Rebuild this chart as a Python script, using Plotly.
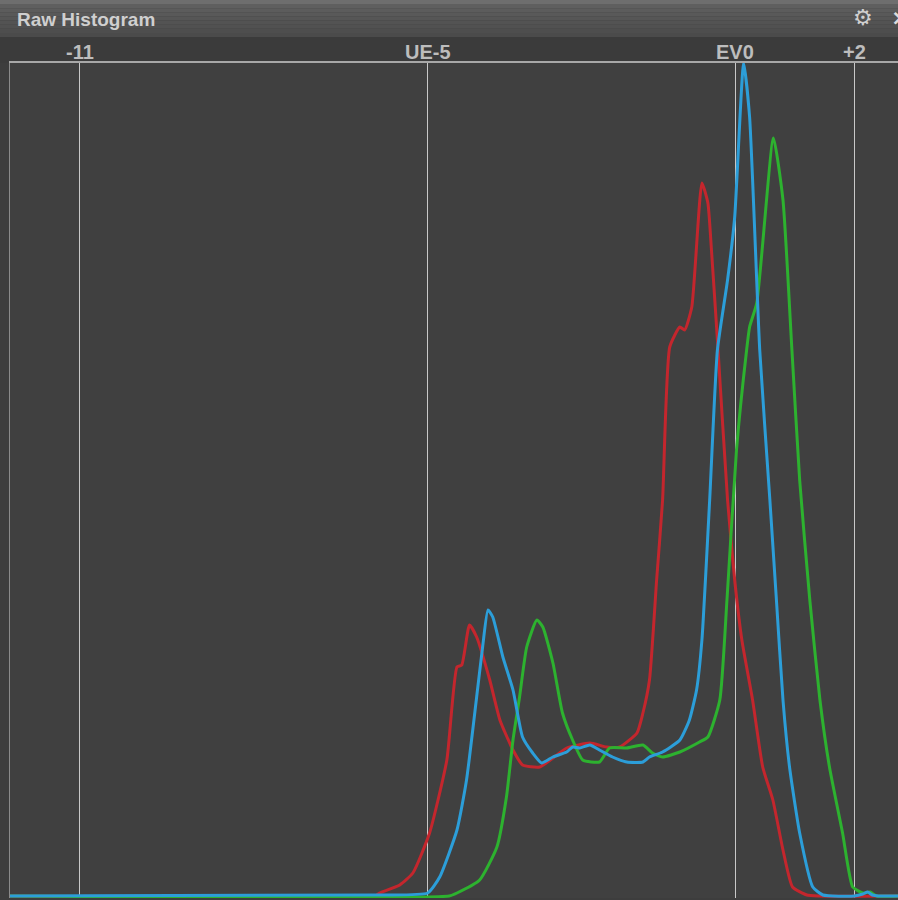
import plotly.graph_objects as go

# ---- data (EV stops vs. relative pixel counts) ----
red_ev = [-12.2, -6.05, -5.97, -5.63, -5.41, -5.13, -4.84, -4.67, -4.59, -4.46, -4.34, -4.12, -3.95,
          -3.73, -3.57, -3.28, -2.83, -2.44, -2.16, -1.94, -1.65, -1.55, -1.44, -1.32, -1.22, -1.10,
          -0.93, -0.85, -0.73, -0.56, -0.46, -0.40, -0.30, -0.13, -0.01, 0.11, 0.29, 0.46, 0.63,
          0.80, 0.96, 1.20, 1.4, 2.73]
red_ct = [0, 0, 3, 11, 23, 63, 136, 229, 231, 271, 259, 216, 176,
          146, 131, 129, 148, 153, 149, 149, 163, 183, 216, 316, 396, 549,
          569, 566, 589, 713, 693, 646, 556, 396, 316, 256, 196, 129, 96,
          46, 9, 1, 0, 0]

blue_ev = [-12.2, -5.97, -5.16, -4.96, -4.67, -4.51, -4.34, -4.24, -4.15, -4.07, -3.90, -3.73, -3.57,
           -3.40, -3.25, -3.06, -2.83, -2.73, -2.61, -2.44, -2.28, -2.06, -1.82, -1.55, -1.44, -1.22,
           -0.93, -0.77, -0.65, -0.56, -0.43, -0.30, -0.13, -0.01, 0.14, 0.24, 0.41, 0.58, 0.69,
           0.80, 0.91, 1.08, 1.30, 1.47, 2.0, 2.14, 2.22, 2.30, 2.40, 2.73]
blue_ct = [0, 1, 3, 19, 66, 116, 199, 249, 286, 279, 239, 206, 159,
           143, 133, 139, 144, 149, 148, 151, 146, 139, 134, 134, 139, 144,
           156, 176, 206, 256, 396, 546, 616, 679, 833, 779, 546, 396, 296,
           196, 129, 63, 9, 1, 0, 2, 4, 1, 0, 0]

green_ev = [-12.2, -4.80, -4.67, -4.29, -4.00, -3.84, -3.73, -3.62, -3.50, -3.33, -3.23, -3.06, -2.90,
            -2.73, -2.56, -2.28, -2.11, -1.82, -1.55, -1.39, -1.22, -0.93, -0.60, -0.46, -0.26, -0.14,
            0.02, 0.19, 0.24, 0.36, 0.64, 0.80, 0.95, 1.08, 1.25, 1.42, 1.58, 1.80, 1.97, 2.14,
            2.26, 2.37, 2.73]
green_ct = [0, 0, 3, 16, 49, 99, 156, 199, 249, 276, 269, 233, 183,
            156, 136, 134, 148, 148, 151, 143, 139, 144, 154, 159, 196, 296,
            446, 546, 569, 593, 758, 696, 546, 416, 296, 196, 129, 63, 9, 3,
            4, 0, 0]

tick_vals = [-11, -5.16, 0, 2]
tick_text = ["-11", "UE-5", "EV0", "+2"]

fig = go.Figure()
series = [("Red", red_ev, red_ct, "#c4262d"),
          ("Green", green_ev, green_ct, "#2db22f"),
          ("Blue", blue_ev, blue_ct, "#2c9ed9")]
for name, xs, ys, col in series:
    fig.add_trace(go.Scatter(x=xs, y=ys, mode="lines", name=name,
                             line=dict(color=col, width=3, shape="spline", smoothing=0.5),
                             hoverinfo="skip"))

# title bar (paper coords above the plot area)
H = 835.0
def py(p):
    return (898 - p) / H

shapes = [
    dict(type="rect", xref="paper", yref="paper", x0=-0.02, x1=1.0, y0=py(63), y1=py(37),
         fillcolor="#3b3b3b", line=dict(width=0), layer="below"),
]
grad = ["#6e6e6e", "#5f5f5f", "#5c5c5c", "#595959", "#565656", "#535353", "#515151", "#4e4e4e", "#4b4b4b"]
n = len(grad)
for i, c in enumerate(grad):
    shapes.append(dict(type="rect", xref="paper", yref="paper", x0=-0.02, x1=1.0,
                       y0=py(37 * (i + 1) / n), y1=py(37 * i / n),
                       fillcolor=c, line=dict(width=0), layer="below"))

annotations = [
    dict(text="Raw Histogram", xref="paper", yref="paper", x=(15 - 10) / 888, y=py(20),
         xanchor="left", yanchor="middle", showarrow=False,
         font=dict(family="Liberation Sans", size=19, color="#cfcfcf", weight="bold")),
    dict(text="⚙", xref="paper", yref="paper", x=(863 - 10) / 888, y=py(18),
         xanchor="center", yanchor="middle", showarrow=False,
         font=dict(family="DejaVu Sans", size=22, color="#cfcfcf")),
    dict(text="×", xref="paper", yref="paper", x=(889 - 10) / 888, y=py(18),
         xanchor="left", yanchor="middle", showarrow=False,
         font=dict(family="DejaVu Sans", size=22, color="#dcdcdc", weight="bold")),
]
for v, t in zip(tick_vals, tick_text):
    annotations.append(dict(text=t, xref="x", yref="paper", x=v, y=py(52),
                            xanchor="center", yanchor="middle", showarrow=False,
                            font=dict(family="Liberation Sans", size=20, color="#bdbdbd", weight="bold")))

fig.update_layout(
    width=898, height=900,
    margin=dict(l=10, r=0, t=63, b=2),
    paper_bgcolor="#3d3d3d",
    plot_bgcolor="#404040",
    showlegend=False,
    shapes=shapes,
    annotations=annotations,
    xaxis=dict(range=[-12.17, 2.73], side="top", tickvals=tick_vals, showticklabels=False,
               showgrid=True, gridcolor="#c8c8c8", gridwidth=1, zeroline=False,
               showline=True, linecolor="#a8a8a8", linewidth=1.5, ticks=""),
    yaxis=dict(range=[-2, 833], showgrid=False, zeroline=False, showticklabels=False,
               showline=True, linecolor="#8a8a8a", linewidth=1),
)

fig.write_html("out.html")
